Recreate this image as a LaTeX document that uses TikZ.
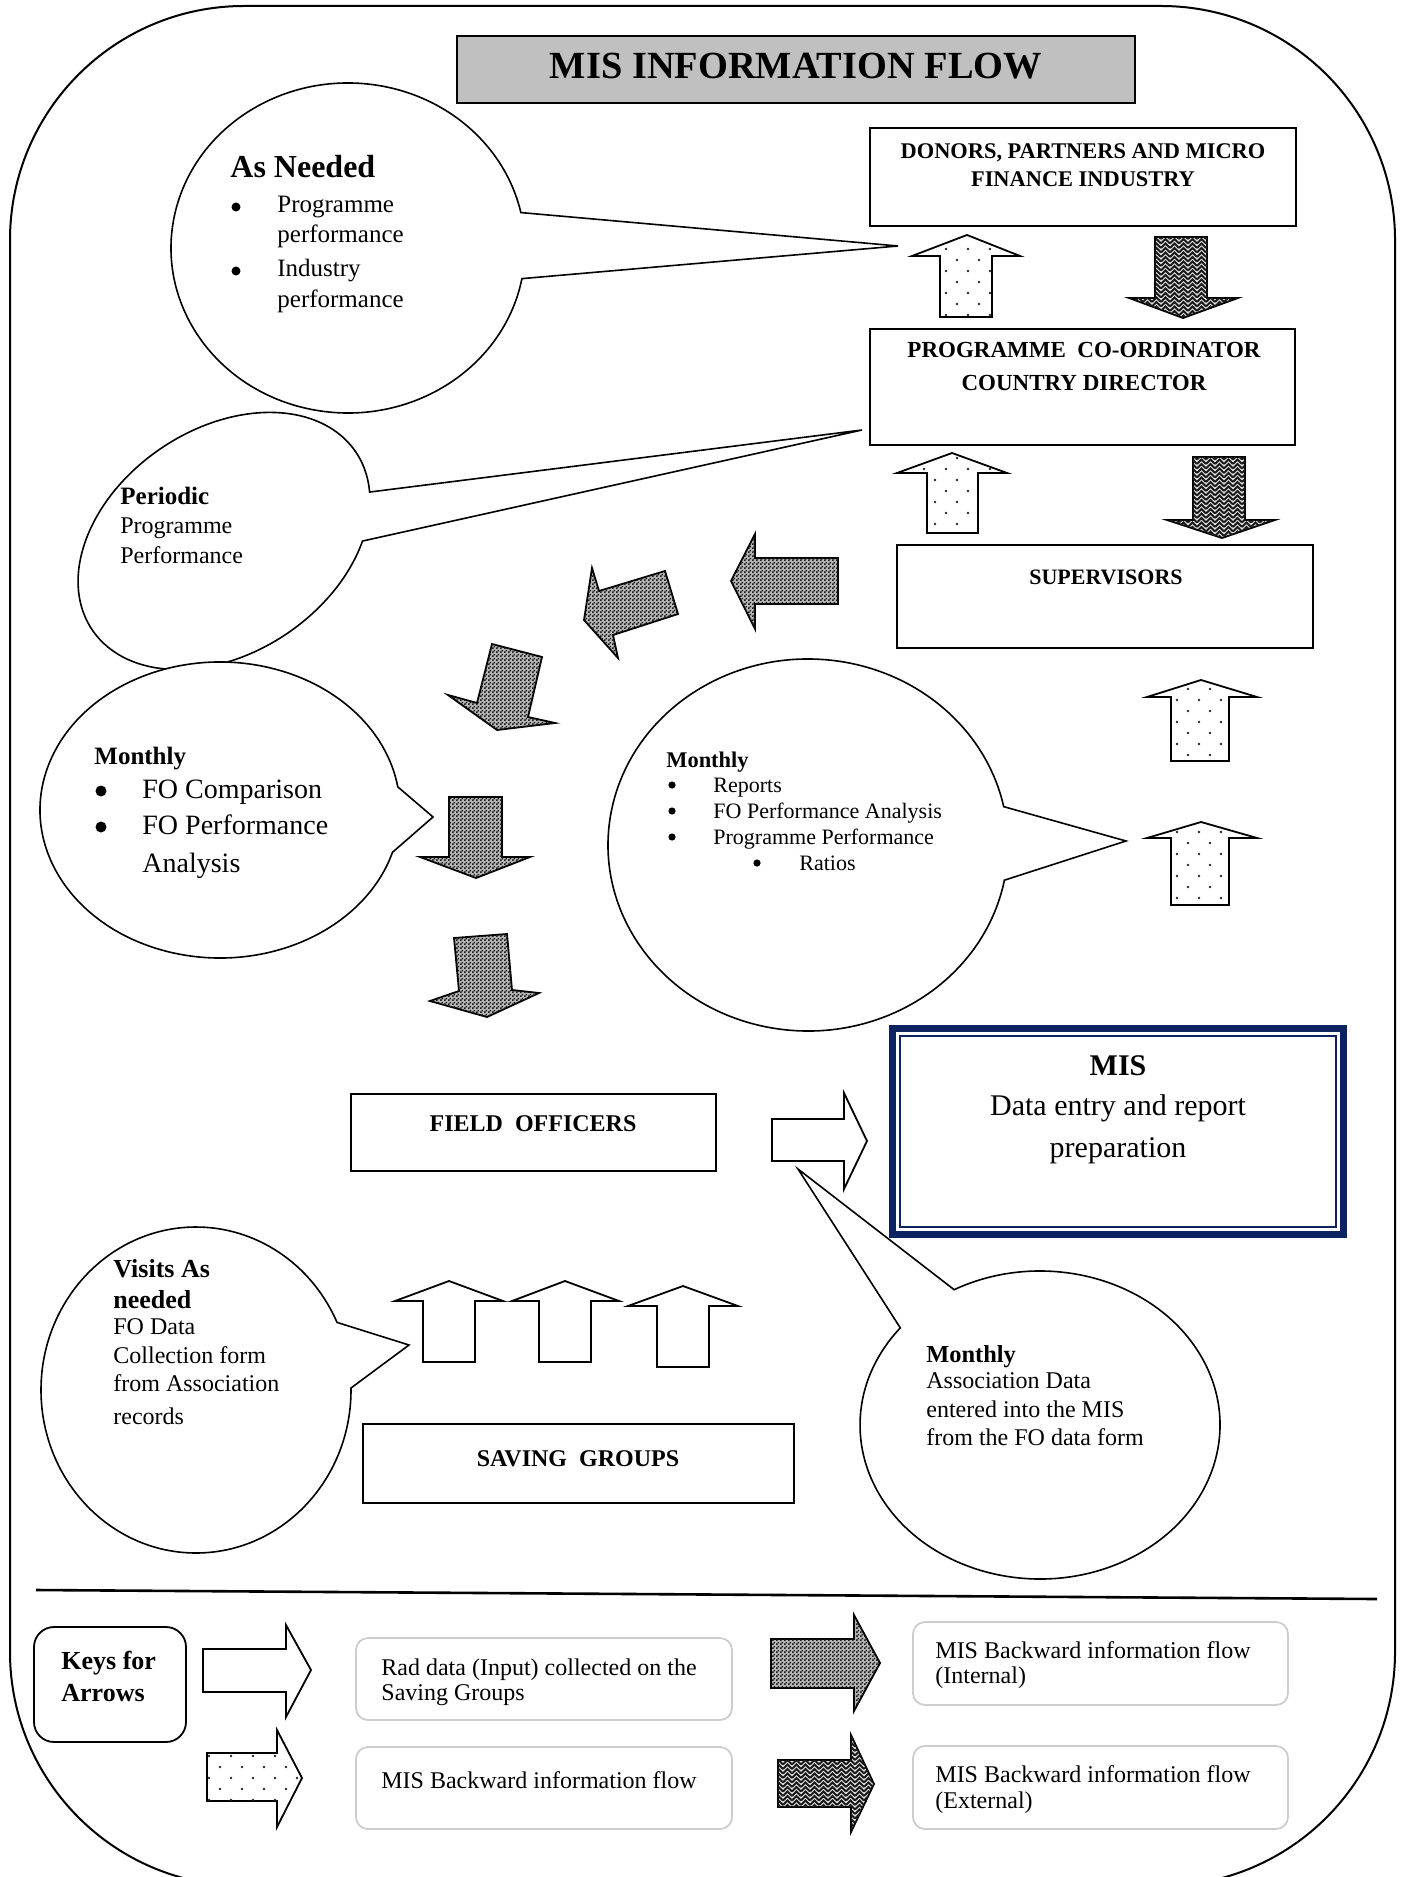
\documentclass[tikz,border=0pt]{standalone}
\usepackage{fontspec}
\setmainfont{Liberation Serif}
\usepackage{tikz}
\usetikzlibrary{patterns}
\usetikzlibrary{calc}
\usepackage{xcolor}

\definecolor{misnavy}{RGB}{12,35,96}
\definecolor{titlegray}{RGB}{192,192,192}
\definecolor{keyedge}{RGB}{205,205,205}

\newcommand{\setsz}[1]{\fontsize{#1}{#1}\selectfont}

\pgfdeclarepatternformonly{sparsedots}{\pgfqpoint{-1pt}{-1pt}}{\pgfqpoint{12pt}{12pt}}{\pgfqpoint{11pt}{11pt}}{
  \pgfpathcircle{\pgfqpoint{0pt}{0pt}}{0.7pt}
  \pgfpathcircle{\pgfqpoint{5.5pt}{5.5pt}}{0.7pt}
  \pgfusepath{fill}}
\pgfdeclarepatternformonly{finechecker}{\pgfqpoint{0pt}{0pt}}{\pgfqpoint{2pt}{2pt}}{\pgfqpoint{2pt}{2pt}}{
  \pgfpathrectangle{\pgfqpoint{0pt}{0pt}}{\pgfqpoint{1pt}{1pt}}
  \pgfpathrectangle{\pgfqpoint{1pt}{1pt}}{\pgfqpoint{1pt}{1pt}}
  \pgfusepath{fill}}
\pgfdeclarepatternformonly{weave}{\pgfqpoint{-0.5pt}{-0.5pt}}{\pgfqpoint{5pt}{5pt}}{\pgfqpoint{4.5pt}{4.5pt}}{
  \pgfsetlinewidth{0.95pt}
  \pgfpathmoveto{\pgfqpoint{0pt}{0pt}}\pgfpathlineto{\pgfqpoint{2.25pt}{2.25pt}}\pgfpathlineto{\pgfqpoint{4.5pt}{0pt}}
  \pgfpathmoveto{\pgfqpoint{0pt}{2.25pt}}\pgfpathlineto{\pgfqpoint{2.25pt}{4.5pt}}\pgfpathlineto{\pgfqpoint{4.5pt}{2.25pt}}
  \pgfusepath{stroke}}

\tikzset{
  lbl/.style={anchor=base west, inner sep=0pt},
  ctr/.style={anchor=base, inner sep=0pt},
  bubble/.style={draw, fill=white, line width=0.8pt},
  plainbox/.style={draw, line width=0.9pt},
  keybox/.style={draw=keyedge, line width=0.9pt, rounded corners=6pt},
  hollowarr/.style={draw, fill=white, line width=0.9pt},
  dotarr/.style={draw, fill=white, line width=0.9pt, postaction={pattern=sparsedots, pattern color=black!85}},
  darkarr/.style={draw, line width=0.9pt, fill=gray!55, postaction={pattern=finechecker, pattern color=black!90}},
  weavearr/.style={draw, line width=0.9pt, fill=gray!25, postaction={pattern=weave, pattern color=black!90}},
}

\begin{document}
\begin{tikzpicture}[x=0.5pt, y=-0.5pt]
\useasboundingbox (0,0) rectangle (1403,1877);
% frame
\draw[line width=1pt, rounded corners=117pt] (10,6) rectangle (1395,1886);

% title
\draw[fill=titlegray, line width=0.8pt] (457,36) rectangle (1135,103);
\node[ctr, font=\bfseries\setsz{19.2}] (title) at (796,79) {MIS INFORMATION FLOW};

% bubbles
\coordinate (cneed) at (348,248);
\coordinate (tneed) at (898,246);
\draw[bubble] ($(cneed)+(10.7:177 and 165)$) arc[start angle=10.7, end angle=347.6, x radius=177, y radius=165] -- (tneed) -- cycle;

\coordinate (tper) at (862,430);
\draw[bubble, rotate around={34:(224,541)}] (338.8,618.5) arc[start angle=43.8, end angle=381.4, x radius=159, y radius=112] -- (tper) -- cycle;

\coordinate (cmonl) at (220,810);
\coordinate (tmonl) at (433,817);
\draw[bubble] ($(cmonl)+(16.6:180 and 148)$) arc[start angle=16.6, end angle=351, x radius=180, y radius=148] -- (tmonl) -- cycle;

\coordinate (cmonr) at (808,845);
\coordinate (tmonr) at (1126,841);
\draw[bubble] ($(cmonr)+(10.9:200 and 186)$) arc[start angle=10.9, end angle=348.1, x radius=200, y radius=186] -- (tmonr) -- cycle;

\coordinate (cvis) at (196,1390);
\coordinate (tvis) at (409,1345);
\draw[bubble] ($(cvis)+(-0.7:155 and 163)$) arc[start angle=-0.7, end angle=335.5, x radius=155, y radius=163] -- (tvis) -- cycle;

\coordinate (cent) at (1040,1425);
\coordinate (tent) at (798,1169);
\draw[bubble] ($(cent)+(241.5:180 and 154)$) arc[start angle=241.5, end angle=579.1, x radius=180, y radius=154] -- (tent) -- cycle;

% boxes
\draw[plainbox] (870,128) rectangle (1296,226);
\draw[plainbox] (870,329) rectangle (1295,445);
\draw[plainbox] (897,545) rectangle (1313,648);
\draw[plainbox] (351,1094) rectangle (716,1171);
\draw[plainbox] (363,1424) rectangle (794,1503);
\draw[misnavy, line width=3.5pt] (892.5,1028.5) rectangle (1343.5,1234.5);
\draw[misnavy, line width=0.7pt] (900,1036) rectangle (1336,1227);

\node[ctr, font=\bfseries\setsz{11.2}] (donors1) at (1083,159) {DONORS, PARTNERS AND MICRO};
\node[ctr, font=\bfseries\setsz{11.2}] (donors2) at (1083,187) {FINANCE INDUSTRY};
\node[ctr, font=\bfseries\setsz{11.5}] (coord1) at (1084,358) {PROGRAMME\ \ CO-ORDINATOR};
\node[ctr, font=\bfseries\setsz{11.5}] (coord2) at (1084,391) {COUNTRY DIRECTOR};
\node[ctr, font=\bfseries\setsz{11}] (super) at (1106,584) {SUPERVISORS};
\node[ctr, font=\bfseries\setsz{12}] (field) at (533,1131) {FIELD\ \ OFFICERS};
\node[ctr, font=\bfseries\setsz{12}] (saving) at (578,1466) {SAVING\ \ GROUPS};
\node[ctr, font=\bfseries\setsz{15}] (mis1) at (1118,1075) {MIS};
\node[ctr, font=\setsz{15}] (mis2) at (1118,1115) {Data entry and report};
\node[ctr, font=\setsz{15}] (mis3) at (1118,1157) {preparation};

% bubble texts
\node[lbl, font=\bfseries\setsz{16}] (need0) at (230,178) {As Needed};
\fill (236,207) circle (4.5);
\node[lbl, font=\setsz{12.5}] (need1) at (277,213) {Programme};
\node[lbl, font=\setsz{12.5}] (need2) at (277,243) {performance};
\fill (236,271) circle (4.5);
\node[lbl, font=\setsz{12.5}] (need3) at (277,277) {Industry};
\node[lbl, font=\setsz{12.5}] (need4) at (277,308) {performance};

\node[lbl, font=\bfseries\setsz{12.5}] (per0) at (120,504) {Periodic};
\node[lbl, font=\setsz{12}] (per1) at (120,533) {Programme};
\node[lbl, font=\setsz{12}] (per2) at (120,563) {Performance};

\node[lbl, font=\bfseries\setsz{12.5}] (monl0) at (94,764) {Monthly};
\fill (101,791) circle (5.5);
\node[lbl, font=\setsz{14}] (monl1) at (142,798) {FO Comparison};
\fill (101,827) circle (5.5);
\node[lbl, font=\setsz{14}] (monl2) at (142,834) {FO Performance};
\node[lbl, font=\setsz{14}] (monl3) at (142,872) {Analysis};

\node[lbl, font=\bfseries\setsz{11.2}] (monr0) at (666,767) {Monthly};
\fill (672,785) circle (3.6);
\node[lbl, font=\setsz{11}] (monr1) at (713,792) {Reports};
\fill (672,811) circle (3.6);
\node[lbl, font=\setsz{11}] (monr2) at (713,818) {FO Performance Analysis};
\fill (672,837) circle (3.6);
\node[lbl, font=\setsz{11}] (monr3) at (713,844) {Programme Performance};
\fill (757,863) circle (3.6);
\node[lbl, font=\setsz{11}] (monr4) at (799,870) {Ratios};

\node[lbl, font=\bfseries\setsz{13}] (vis0) at (113,1277) {Visits As};
\node[lbl, font=\bfseries\setsz{13}] (vis1) at (113,1308) {needed};
\node[lbl, font=\setsz{12}] (vis2) at (113,1334) {FO Data};
\node[lbl, font=\setsz{12}] (vis3) at (113,1363) {Collection form};
\node[lbl, font=\setsz{12}] (vis4) at (113,1391) {from Association};
\node[lbl, font=\setsz{12}] (vis5) at (113,1424) {records};

\node[lbl, font=\bfseries\setsz{12.2}] (ent0) at (926,1362) {Monthly};
\node[lbl, font=\setsz{12}] (ent1) at (926,1388) {Association Data};
\node[lbl, font=\setsz{12}] (ent2) at (926,1417) {entered into the MIS};
\node[lbl, font=\setsz{12}] (ent3) at (926,1445) {from the FO data form};

% dotted and weave arrows
\draw[dotarr] (967,235) -- (1020,256) -- (992,256) -- (992,317) -- (940,317) -- (940,256) -- (912,256) -- cycle;
\draw[weavearr] (1183,318) -- (1238,298) -- (1207,298) -- (1207,237) -- (1155,237) -- (1155,298) -- (1129,298) -- cycle;
\draw[dotarr] (952,453) -- (1007,473) -- (978,473) -- (978,533) -- (927,533) -- (927,473) -- (897,473) -- cycle;
\draw[weavearr] (1222,538) -- (1275,520) -- (1245,520) -- (1245,457) -- (1193,457) -- (1193,520) -- (1167,520) -- cycle;
\draw[dotarr] (1201,680) -- (1257,697) -- (1229,697) -- (1229,761) -- (1171,761) -- (1171,697) -- (1147,697) -- cycle;
\draw[dotarr] (1201,822) -- (1257,838) -- (1229,838) -- (1229,905) -- (1171,905) -- (1171,838) -- (1147,838) -- cycle;

% internal arrows
\draw[darkarr] (731,581) -- (755,534) -- (755,558) -- (838,558) -- (838,604) -- (755,604) -- (755,629) -- cycle;
\draw[darkarr] (584,620) -- (592,568) -- (599,591) -- (665,571) -- (678,614) -- (613,635) -- (618,658) -- cycle;
\draw[darkarr] (492,644) -- (542,657) -- (528,717) -- (555,723) -- (497,730) -- (448,695) -- (477,703) -- cycle;
\draw[darkarr] (449,797) -- (502,797) -- (502,857) -- (530,857) -- (476,878) -- (420,857) -- (449,857) -- cycle;
\draw[darkarr] (454,938) -- (507,934) -- (512,990) -- (539,993) -- (487,1017) -- (430,1001) -- (459,991) -- cycle;

% raw data arrows
\draw[hollowarr] (772,1119) -- (844,1119) -- (844,1093) -- (867,1141) -- (844,1189) -- (844,1161) -- (772,1161) -- cycle;
\draw[hollowarr] (449,1281) -- (503,1301) -- (475,1301) -- (475,1362) -- (423,1362) -- (423,1301) -- (395,1301) -- cycle;
\draw[hollowarr] (565,1281) -- (619,1301) -- (591,1301) -- (591,1362) -- (539,1362) -- (539,1301) -- (512,1301) -- cycle;
\draw[hollowarr] (683,1286) -- (738,1306) -- (709,1306) -- (709,1367) -- (657,1367) -- (657,1306) -- (628,1306) -- cycle;

% key
\draw[line width=1.3pt] (36,1590) -- (1377,1599);
\draw[line width=0.9pt, rounded corners=10pt] (34,1627) rectangle (186,1742);
\node[lbl, font=\bfseries\setsz{13}] (key1) at (61,1669) {Keys for};
\node[lbl, font=\bfseries\setsz{13}] (key2) at (61,1701) {Arrows};

\draw[hollowarr] (203,1649) -- (286,1649) -- (286,1625) -- (311,1670) -- (286,1717) -- (286,1692) -- (203,1692) -- cycle;
\draw[dotarr] (207,1753) -- (277,1753) -- (277,1730) -- (302,1778) -- (277,1827) -- (277,1801) -- (207,1801) -- cycle;
\draw[darkarr] (771,1639) -- (854,1639) -- (854,1615) -- (880,1663) -- (854,1711) -- (854,1688) -- (771,1688) -- cycle;
\draw[weavearr] (778,1760) -- (851,1760) -- (851,1735) -- (874,1784) -- (851,1832) -- (851,1807) -- (778,1807) -- cycle;

\draw[keybox] (356,1638) rectangle (732,1720);
\draw[keybox] (356,1747) rectangle (732,1829);
\draw[keybox] (913,1622) rectangle (1288,1705);
\draw[keybox] (913,1746) rectangle (1288,1829);

\node[lbl, font=\setsz{12}] (rad1) at (381,1675) {Rad data (Input) collected on the};
\node[lbl, font=\setsz{12}] (rad2) at (381,1700) {Saving Groups};
\node[lbl, font=\setsz{12}] (back) at (381,1788) {MIS Backward information flow};
\node[lbl, font=\setsz{12}] (int1) at (935,1658) {MIS Backward information flow};
\node[lbl, font=\setsz{12}] (int2) at (935,1683) {(Internal)};
\node[lbl, font=\setsz{12}] (ext1) at (935,1782) {MIS Backward information flow};
\node[lbl, font=\setsz{12}] (ext2) at (935,1808) {(External)};
\end{tikzpicture}
\end{document}
